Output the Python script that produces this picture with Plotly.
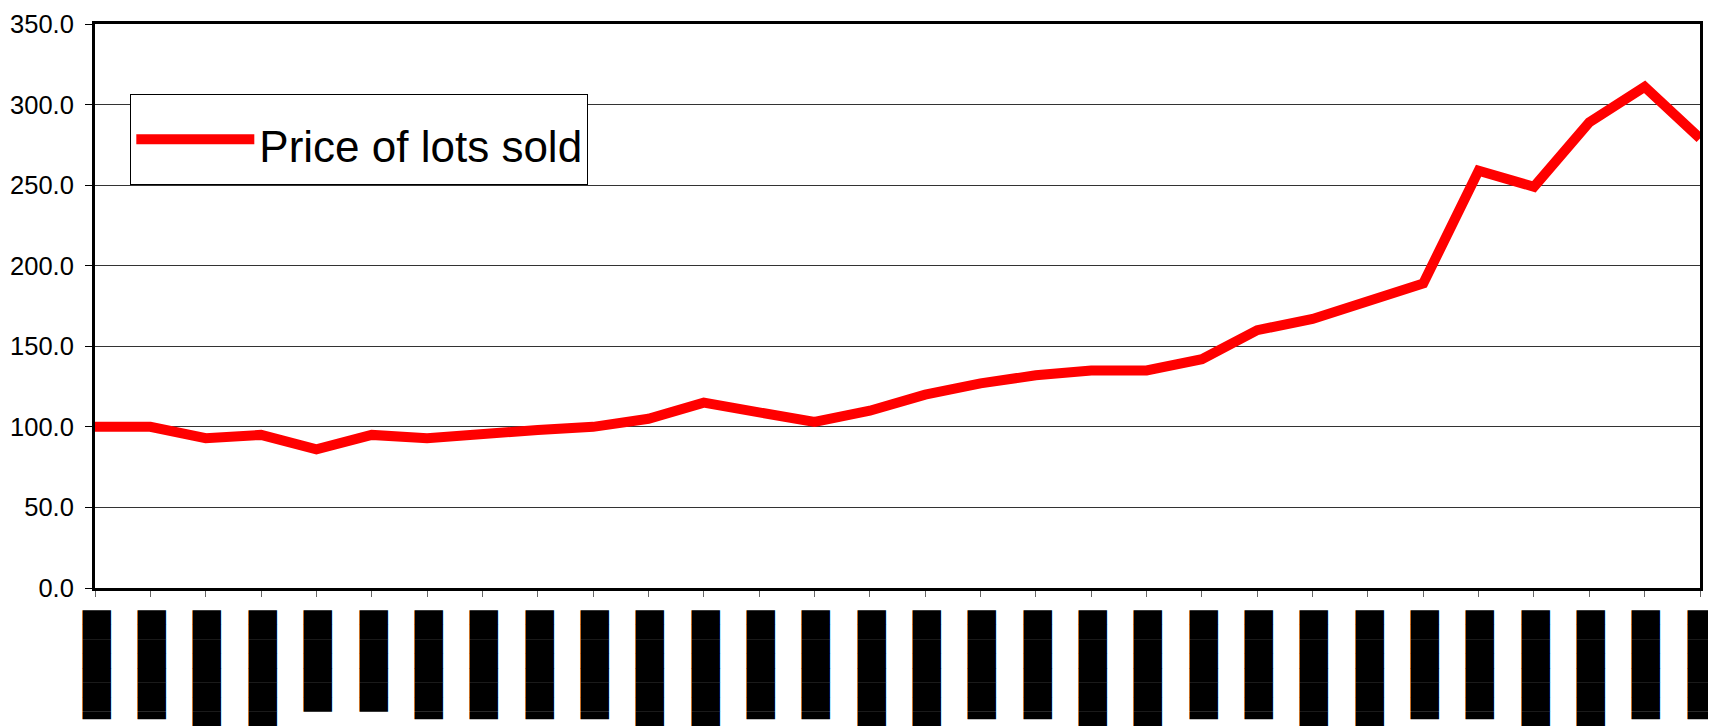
import plotly.graph_objects as go

# Tick labels (rendered in the reference as solid black rotated glyph blocks)
tick_labels = [
    "▐███████", "▐███████", "████████", "████████", "███████",
    "███████", "▐███████", "▐███████", "▐███████", "▐███████",
    "████████", "████████", "▐███████", "▐███████", "████████",
    "████████", "▐███████", "▐███████", "████████", "████████",
    "▐███████", "▐███████", "████████", "████████", "▐███████",
    "▐███████", "████████", "████████", "▐███████", "▐███████",
]
price_of_lots_sold = [100, 100, 93, 95, 86, 95, 93, 96, 98, 100,
                      105, 115, 109, 103, 110, 120, 127, 132, 135, 135,
                      142, 160, 167, 178, 189, 259, 249, 289, 311, 279]
y_ticks = [0, 50, 100, 150, 200, 250, 300, 350]
series_name = "Price of lots sold"

x_pos = list(range(len(price_of_lots_sold)))

fig = go.Figure()
fig.add_trace(go.Scatter(
    x=x_pos, y=price_of_lots_sold, mode="lines",
    name='<span style="font-size:44px">' + series_name + '</span>',
    line=dict(color="#ff0000", width=10),
))

# page body has an 8px margin, so the figure is sized to the remaining viewport
fig.update_layout(
    width=1708, height=718,
    margin=dict(l=87, r=16, t=16, b=138, autoexpand=False),
    paper_bgcolor="white", plot_bgcolor="white",
    font=dict(family="Liberation Sans, Arial", color="black"),
    showlegend=True,
    legend=dict(
        x=0.022, y=0.876, xanchor="left", yanchor="top",
        bordercolor="black", borderwidth=1, bgcolor="white",
        font=dict(size=58, family="Liberation Sans, Arial"),
        itemwidth=118,
    ),
)
fig.update_xaxes(
    automargin=False,
    range=[0, len(x_pos) - 1],
    tickmode="array", tickvals=x_pos, ticktext=tick_labels,
    tickangle=-90,
    tickfont=dict(family="DejaVu Sans Mono", size=24, color="black"),
    ticks="outside", ticklen=6, tickcolor="#666", tickwidth=1,
    ticklabelstandoff=4, ticklabelshift=2,
    ticklabeloverflow="allow",
    showline=True, linecolor="black", linewidth=3, mirror=True,
    showgrid=False, zeroline=False,
)
fig.update_yaxes(
    automargin=False,
    range=[0, 350], tickmode="array", tickvals=y_ticks,
    tickformat=".1f",
    tickfont=dict(size=25.5, color="black"),
    ticks="outside", ticklen=7, tickcolor="black", tickwidth=1,
    ticklabelstandoff=6,
    showline=True, linecolor="black", linewidth=3, mirror=True,
    showgrid=True, gridcolor="#333", gridwidth=1,
    zeroline=False,
)

fig.write_html("out.html")
